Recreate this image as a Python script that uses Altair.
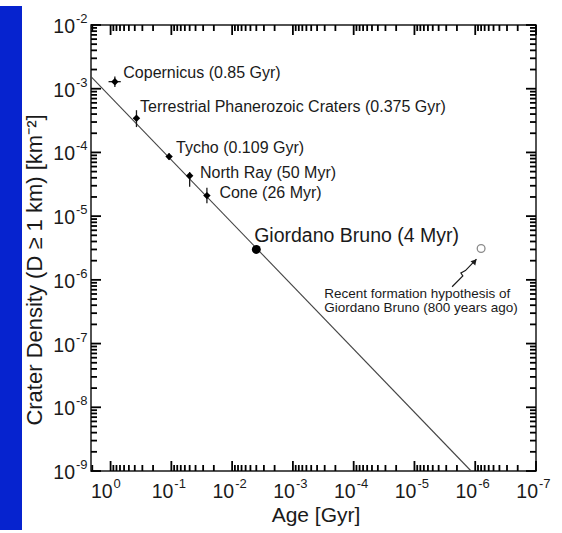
import math
import altair as alt
import pandas as pd

W, H = 445, 446
FONT = "Liberation Sans"
INK = "#1a1a1a"

# ---- data ----
crater_names = ["Copernicus", "Terrestrial Phanerozoic Craters", "Tycho", "North Ray", "Cone"]
crater_age = [0.85, 0.375, 0.109, 0.050, 0.026]          # Gyr
crater_density = [1.29e-3, 3.43e-4, 8.6e-5, 4.3e-5, 2.1e-5]  # km^-2
density_low = [1.06e-3, 2.5e-4, 7.7e-5, 2.9e-5, 1.6e-5]
density_high = [1.55e-3, 4.6e-4, 9.7e-5, 4.9e-5, 2.8e-5]
age_low = [0.68, 0.34, 0.100, 0.046, 0.024]
age_high = [1.08, 0.42, 0.118, 0.054, 0.028]

gb_age = [0.004]
gb_density = [3.0e-6]
hyp_age = [8e-7]
hyp_density = [3.1e-6]

line_age = [2.1, 1.17e-6]
line_density = [1.55e-3, 1e-9]

label_text = ["Copernicus (0.85 Gyr)", "Terrestrial Phanerozoic Craters (0.375 Gyr)",
              "Tycho (0.109 Gyr)", "North Ray (50 Myr)", "Cone (26 Myr)"]
label_age = [0.618, 0.328, 0.0837, 0.0337, 0.0162]
label_density = [1.46e-3, 4.31e-4, 9.68e-5, 3.92e-5, 1.90e-5]

gb_label = ["Giordano Bruno (4 Myr)"]
gb_label_age = [0.00434]
gb_label_density = [3.96e-6]

note_lines = ["Recent formation hypothesis of", "Giordano Bruno (800 years ago)"]
note_age = [3.05e-4, 3.05e-4]
note_density = [5.13e-7, 3.15e-7]

arrow_age = [2.40e-6, 1.60e-6, 1.72e-6, 1.45e-6, 9.55e-7]
arrow_density = [7.8e-7, 1.15e-6, 1.28e-6, 1.40e-6, 2.12e-6]
arrow_head_age = [1.02e-6]
arrow_head_density = [1.95e-6]

x_label_values = [1, 1e-1, 1e-2, 1e-3, 1e-4, 1e-5, 1e-6, 1e-7]
x_label_exp = ["0", "-1", "-2", "-3", "-4", "-5", "-6", "-7"]
y_label_values = [1e-2, 1e-3, 1e-4, 1e-5, 1e-6, 1e-7, 1e-8, 1e-9]
y_label_exp = ["-2", "-3", "-4", "-5", "-6", "-7", "-8", "-9"]

# axis ranges
X_MIN, X_MAX = 1e-7, 2.1
Y_MIN, Y_MAX = 1e-9, 1e-2

# tick positions (log axes: 1..9 x 10^e)
x_major = x_label_values
x_minor = [float(f"{k}e{e}") for e in range(-7, 1) for k in range(2, 10) if float(f"{k}e{e}") <= X_MAX]
y_major = y_label_values
y_minor = [float(f"{k}e{e}") for e in range(-9, -2) for k in range(2, 10)]

# ---- scales ----
xs = alt.Scale(type="log", domain=[X_MIN, X_MAX], reverse=True, nice=False)
ys = alt.Scale(type="log", domain=[Y_MIN, Y_MAX], nice=False)

X = lambda f="age": alt.X(f"{f}:Q", scale=xs, axis=None)
Y = lambda f="density": alt.Y(f"{f}:Q", scale=ys, axis=None)

line_df = pd.DataFrame({"age": line_age, "density": line_density})
crater_df = pd.DataFrame({"name": crater_names, "age": crater_age, "density": crater_density,
                          "dlo": density_low, "dhi": density_high, "alo": age_low, "ahi": age_high})
gb_df = pd.DataFrame({"age": gb_age, "density": gb_density})
hyp_df = pd.DataFrame({"age": hyp_age, "density": hyp_density})
lab_df = pd.DataFrame({"text": label_text, "age": label_age, "density": label_density})
gbl_df = pd.DataFrame({"text": gb_label, "age": gb_label_age, "density": gb_label_density})
note_df = pd.DataFrame({"text": note_lines, "age": note_age, "density": note_density})
arrow_df = pd.DataFrame({"i": list(range(len(arrow_age))), "age": arrow_age, "density": arrow_density})
head_df = pd.DataFrame({"age": arrow_head_age, "density": arrow_head_density})
xl_df = pd.DataFrame({"v": x_label_values, "base": ["10"] * len(x_label_values), "exp": x_label_exp})
yl_df = pd.DataFrame({"v": y_label_values, "base": ["10"] * len(y_label_values), "exp": y_label_exp})
one = pd.DataFrame({"a": [0]})

# pixels per decade, to express tick lengths in axis units
PX_DEC_X = W / math.log10(X_MAX / X_MIN)
PX_DEC_Y = H / math.log10(Y_MAX / Y_MIN)

# one table for the ticks on the horizontal edges, one for the vertical edges (inward ticks)
xt_rows = []
for vals, length in ((x_major, 10), (x_minor, 6)):
    step = 10 ** (length / PX_DEC_Y)
    for v in vals:
        xt_rows.append({"v": v, "a": Y_MIN, "b": Y_MIN * step, "side": "bottom"})
        xt_rows.append({"v": v, "a": Y_MAX, "b": Y_MAX / step, "side": "top"})
yt_rows = []
for vals, length in ((y_major, 10), (y_minor, 6)):
    step = 10 ** (length / PX_DEC_X)
    for v in vals:
        yt_rows.append({"v": v, "a": X_MAX, "b": X_MAX / step, "side": "left"})
        yt_rows.append({"v": v, "a": X_MIN, "b": X_MIN * step, "side": "right"})
xt_df = pd.DataFrame(xt_rows)
yt_df = pd.DataFrame(yt_rows)

x_tick_marks = alt.Chart(xt_df).mark_rule(color="#000000", strokeWidth=1.8).encode(
    x=X("v"), y=Y("b"), y2="a:Q")
y_tick_marks = alt.Chart(yt_df).mark_rule(color="#000000", strokeWidth=1.8).encode(
    y=Y("v"), x=X("b"), x2="a:Q")

blue_bar = alt.Chart(one).mark_rect(color="#0623CF").encode(
    x=alt.value(-91), x2=alt.value(-69), y=alt.value(-19), y2=alt.value(505))

fit_line = alt.Chart(line_df).mark_line(color="#444444", strokeWidth=1.1).encode(x=X(), y=Y())

vbars = alt.Chart(crater_df).mark_rule(color=INK, strokeWidth=1.3).encode(
    x=X(), y=Y("dlo"), y2="dhi:Q")
hbars = alt.Chart(crater_df).mark_rule(color=INK, strokeWidth=1.3).encode(
    x=X("alo"), x2="ahi:Q", y=Y())
points = alt.Chart(crater_df).mark_point(shape="diamond", filled=True, color="#000000", size=55,
                                         opacity=1).encode(x=X(), y=Y())

gb_pt = alt.Chart(gb_df).mark_point(shape="circle", filled=True, color="#000000", size=80,
                                    opacity=1).encode(x=X(), y=Y())
hyp_pt = alt.Chart(hyp_df).mark_point(shape="circle", filled=False, color="#8a8a8a",
                                      strokeWidth=1.3, size=60, opacity=1).encode(x=X(), y=Y())

labels = alt.Chart(lab_df).mark_text(align="left", baseline="alphabetic", font=FONT,
                                     fontSize=16, color=INK).encode(x=X(), y=Y(), text="text:N")
gb_lab = alt.Chart(gbl_df).mark_text(align="left", baseline="alphabetic", font=FONT,
                                     fontSize=19.5, color=INK).encode(x=X(), y=Y(), text="text:N")
note = alt.Chart(note_df).mark_text(align="left", baseline="alphabetic", font=FONT,
                                    fontSize=13.5, color=INK).encode(x=X(), y=Y(), text="text:N")

arrow = alt.Chart(arrow_df).mark_line(color=INK, strokeWidth=1.2).encode(
    x=X(), y=Y(), order="i:Q")
arrow_head = alt.Chart(head_df).mark_point(shape="triangle-up", filled=True, color=INK, size=40,
                                           angle=41, opacity=1).encode(x=X(), y=Y())

xl_base = alt.Chart(xl_df).mark_text(align="right", baseline="alphabetic", font=FONT, fontSize=19.5,
                                     color=INK, dx=2).encode(x=X("v"), y=alt.value(H + 27), text="base:N")
xl_exp = alt.Chart(xl_df).mark_text(align="left", baseline="alphabetic", font=FONT, fontSize=13,
                                    color=INK, dx=3).encode(x=X("v"), y=alt.value(H + 17), text="exp:N")
yl_base = alt.Chart(yl_df).mark_text(align="right", baseline="alphabetic", font=FONT, fontSize=19.5,
                                     color=INK, dy=8).encode(x=alt.value(-16), y=Y("v"), text="base:N")
yl_exp = alt.Chart(yl_df).mark_text(align="left", baseline="alphabetic", font=FONT, fontSize=13,
                                    color=INK, dy=-2).encode(x=alt.value(-15), y=Y("v"), text="exp:N")

x_title = alt.Chart(one).mark_text(text="Age [Gyr]", align="center", baseline="alphabetic",
                                   font=FONT, fontSize=21, color=INK).encode(
    x=alt.value(225), y=alt.value(H + 51))
y_title = alt.Chart(one).mark_text(text="Crater Density (D \u2265 1 km) [km\u207b\u00b2]", align="center",
                                   baseline="alphabetic", angle=270, font=FONT, fontSize=22,
                                   color=INK).encode(x=alt.value(-49), y=alt.value(245))

chart = alt.layer(
    blue_bar, fit_line, vbars, hbars, points, gb_pt, hyp_pt, labels, gb_lab, note,
    arrow, arrow_head, xl_base, xl_exp, yl_base, yl_exp, x_title, y_title,
    x_tick_marks, y_tick_marks
).properties(
    width=W, height=H,
    padding={"left": 91, "top": 25, "right": 26, "bottom": 62},
    autosize=alt.AutoSizeParams(type="none"),
    background="white",
).configure_view(stroke=INK, strokeWidth=1.5)

chart.save("out.html", embed_options={"renderer": "svg", "actions": False})
